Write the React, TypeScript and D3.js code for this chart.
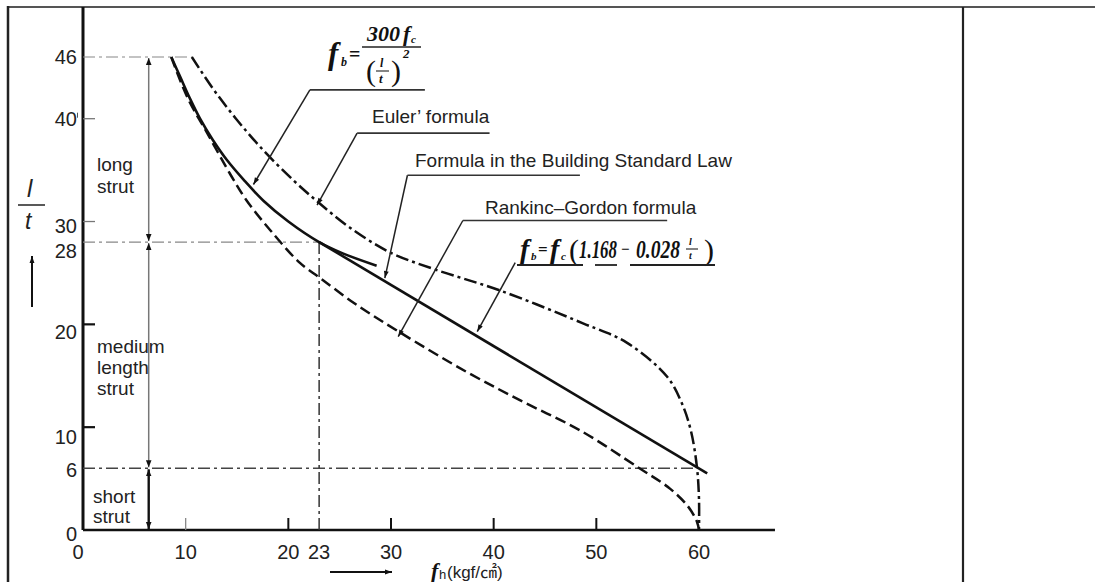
import React from 'react';
import * as d3 from 'd3';

type P = [number, number];

// x: fh (kgf/cm2), y: l/t
const xTickMarks = [10, 20, 30, 40, 50];
const xTickLabels = [0, 10, 20, 23, 30, 40, 50, 60];
const yTickMarks = [10, 20, 30, 40];
const yTickLabels = [0, 6, 10, 20, 28, 30, 40, 46];

const eulerCurve: P[] = [
  [8.6, 46], [9.5, 44], [10.4, 42], [11.4, 40], [12.6, 38], [14.0, 36], [15.7, 34],
  [17.6, 32], [20.0, 30], [23.0, 28], [25.3, 26.9], [28.6, 25.7],
];
const straightLine: P[] = [[23.0, 28], [60.8, 5.5]];
const dashedCurve: P[] = [
  [8.6, 46], [10.2, 42], [12.1, 38.6], [14.4, 34.5], [15.9, 32.1], [18.2, 29.2], [21.1, 26.0],
  [23.1, 24.5], [26.5, 22.0], [30.9, 19.2], [37.5, 15.3], [43.0, 12.4], [48.4, 9.7],
  [54.2, 6.0], [57.2, 4.0], [59.0, 2.2], [59.8, 0.8], [60.0, 0],
];
const dashDotCurve: P[] = [
  [10.6, 46], [12.6, 43], [14.9, 40], [17.5, 37], [20.5, 34], [23.0, 31.8], [26.0, 29.4],
  [29.9, 27.0], [34.1, 25.4], [40.6, 23.3], [48.7, 20.1], [53.0, 18.2], [56.9, 14.9],
  [58.3, 12.4], [59.2, 9.7], [59.8, 6.1], [60.0, 3.0], [60.0, 0],
];

// guide levels: [l/t, fh extent]
const guideLevels: P[] = [[46, 10.6], [28, 23], [6, 60]];
const guideVertical: P = [23, 28];
const dimensionX = 6.4;
const dimensionStops = [46, 28, 6, 0];

// leaders: tip, elbow, end (data units)
const leaderNames = ['fb300', 'euler', 'bsl', 'rankine', 'fb1168'];
const leaderTips: P[] = [[16.6, 33.6], [22.8, 31.6], [29.4, 24.5], [30.7, 18.8], [38.4, 19.3]];
const leaderElbows: P[] = [[22.1, 42.8], [26.7, 38.6], [31.6, 34.5], [37.0, 30.1], [42.1, 26.0]];
const leaderEnds: P[] = [[33.3, 42.8], [39.6, 38.6], [48.4, 34.5], [56.9, 30.1], [42.1, 26.0]];
const labelTexts = ['Euler’ formula', 'Formula in the Building Standard Law', 'Rankinc–Gordon formula'];

const FONT = "'Liberation Sans', Arial, sans-serif";
const MATH = "'Liberation Serif', 'DejaVu Serif', serif";

export default function App() {
  const x = d3.scaleLinear().domain([0, 60]).range([83, 699]);
  const y = d3.scaleLinear().domain([0, 46]).range([530, 57]);
  const line = d3.line<P>().x(d => x(d[0])).y(d => y(d[1])).curve(d3.curveCatmullRom.alpha(0.5));
  const straight = d3.line<P>().x(d => x(d[0])).y(d => y(d[1]));
  const labelShift: Record<number, number> = { 0: 4, 6: 2, 10: 10, 20: 8, 28: 9, 30: 4, 40: 0, 46: 0 };

  return (
    <svg width={1095} height={582} style={{ position: 'absolute', left: 0, top: 0, background: '#fff' }}>
      <defs>
        <marker id="arr" viewBox="0 0 10 10" refX="10" refY="5" markerWidth="7" markerHeight="7" orient="auto-start-reverse" markerUnits="userSpaceOnUse">
          <path d="M0,1 L10,5 L0,9 Z" fill="#111" />
        </marker>
        <marker id="arrS" viewBox="0 0 10 10" refX="10" refY="5" markerWidth="8" markerHeight="7" orient="auto-start-reverse" markerUnits="userSpaceOnUse">
          <path d="M0,1.5 L10,5 L0,8.5 Z" fill="#111" />
        </marker>
      </defs>
      <rect x={0} y={0} width={1095} height={582} fill="#fff" />
      {/* frame */}
      <line x1={7} x2={1095} y1={7} y2={7} stroke="#555" strokeWidth={2} />
      <line x1={8} x2={8} y1={6} y2={582} stroke="#222" strokeWidth={2.5} />
      <line x1={963} x2={963} y1={7} y2={582} stroke="#222" strokeWidth={2.2} />

      {/* axes */}
      <line x1={x(0)} x2={x(0)} y1={7} y2={y(0)} stroke="#111" strokeWidth={3} />
      <line x1={x(0)} x2={x(67.4)} y1={y(0)} y2={y(0)} stroke="#111" strokeWidth={2.5} />
      {yTickMarks.map(v => (
        <line key={'yt' + v} x1={x(0)} x2={x(0) + 12} y1={y(v)} y2={y(v)} stroke={v >= 30 ? '#777' : '#111'} strokeWidth={v >= 30 ? 1.3 : 2.2} />
      ))}
      <line x1={77.5} x2={77.5} y1={y(40) - 6} y2={y(40) - 1} stroke="#555" strokeWidth={1} />
      {xTickMarks.map(v => (
        <line key={'xt' + v} x1={x(v)} x2={x(v)} y1={y(0)} y2={y(0) - 12} stroke={v === 10 ? '#888' : '#111'} strokeWidth={v === 10 ? 1.3 : 2} />
      ))}
      {yTickLabels.map(v => (
        <text key={'yl' + v} x={77} y={y(v) + 7 + labelShift[v]} textAnchor="end" fontFamily={FONT} fontSize={20} fill="#222">{v}</text>
      ))}
      {xTickLabels.map(v => (
        <text key={'xl' + v} x={v === 0 ? 78 : x(v)} y={559} textAnchor="middle" fontFamily={FONT} fontSize={20} fill="#222">{v}</text>
      ))}

      {/* guides */}
      {guideLevels.map(([lt, fh]) => (
        <line key={'g' + lt} x1={x(0)} x2={x(fh)} y1={y(lt)} y2={y(lt)} stroke={lt === 6 ? '#444' : '#888'} strokeWidth={lt === 6 ? 1.4 : 1.2} strokeDasharray="12 4 3 4" />
      ))}
      <line x1={x(guideVertical[0])} x2={x(guideVertical[0])} y1={y(guideVertical[1])} y2={y(0)} stroke="#333" strokeWidth={1.5} strokeDasharray="12 4 3 4" />

      {/* dimension line */}
      {dimensionStops.slice(0, -1).map((s, i) => {
        const e = dimensionStops[i + 1];
        const last = i === dimensionStops.length - 2;
        return (
          <line key={'d' + i} x1={x(dimensionX)} x2={x(dimensionX)} y1={y(s) + 1} y2={y(e) - 1}
            stroke={last ? '#111' : '#777'} strokeWidth={last ? 2.4 : 1.5}
            markerStart="url(#arr)" markerEnd="url(#arr)" />
        );
      })}

      {/* curves */}
      <path d={line(eulerCurve) || ''} fill="none" stroke="#111" strokeWidth={2.6} />
      <path d={straight(straightLine) || ''} fill="none" stroke="#111" strokeWidth={2.6} />
      <path d={line(dashedCurve) || ''} fill="none" stroke="#111" strokeWidth={2.5} strokeDasharray="11 5" />
      <path d={line(dashDotCurve) || ''} fill="none" stroke="#111" strokeWidth={2.5} strokeDasharray="13 4 3 4" />

      {/* leaders */}
      {leaderNames.map((n, i) => (
        <g key={n}>
          <line x1={x(leaderElbows[i][0])} y1={y(leaderElbows[i][1])} x2={x(leaderTips[i][0])} y2={y(leaderTips[i][1])} stroke="#222" strokeWidth={1.5} markerEnd="url(#arrS)" />
          {n !== 'fb1168' && (
            <line x1={x(leaderElbows[i][0])} y1={y(leaderElbows[i][1])} x2={x(leaderEnds[i][0])} y2={y(leaderEnds[i][1])} stroke="#333" strokeWidth={1.6} />
          )}
        </g>
      ))}
      <text x={372} y={123} fontFamily={FONT} fontSize={19} fill="#222">{labelTexts[0]}</text>
      <text x={415} y={167} fontFamily={FONT} fontSize={19} fill="#222">{labelTexts[1]}</text>
      <text x={485} y={214} fontFamily={FONT} fontSize={19} fill="#222">{labelTexts[2]}</text>

      {/* formula fb = 300fc/(l/t)^2 */}
      <g fontFamily={MATH} fontStyle="italic" fontWeight="bold" fill="#111">
        <text x={328} y={64} fontSize={31}>f</text>
        <text x={341} y={66} fontSize={12}>b</text>
        <text x={349} y={61} fontSize={20} fontStyle="normal">=</text>
        <text x={367} y={41} fontSize={21} textLength={33} lengthAdjust="spacingAndGlyphs">300</text>
        <text x={403} y={41} fontSize={22}>f</text>
        <text x={411} y={43} fontSize={11}>c</text>
        <line x1={362} x2={421} y1={47} y2={47} stroke="#222" strokeWidth={1.6} />
        <text x={366} y={81} fontSize={30} fontStyle="normal" fontWeight="normal">(</text>
        <text x={380} y={67} fontSize={12}>l</text>
        <line x1={376} x2={389} y1={71} y2={71} stroke="#333" strokeWidth={1.2} />
        <text x={379} y={83} fontSize={13}>t</text>
        <text x={391} y={81} fontSize={30} fontStyle="normal" fontWeight="normal">)</text>
        <text x={403} y={58} fontSize={13}>2</text>
      </g>

      {/* formula fb = fc(1.168 - 0.028 l/t) */}
      <g fontFamily={MATH} fontStyle="italic" fontWeight="bold" fill="#111">
        <text x={520} y={258} fontSize={28}>f</text>
        <text x={531} y={260} fontSize={11}>b</text>
        <text x={538} y={255} fontSize={17} fontStyle="normal">=</text>
        <text x={550} y={258} fontSize={28}>f</text>
        <text x={561} y={260} fontSize={11}>c</text>
        <text x={569} y={260} fontSize={30} fontStyle="normal" fontWeight="normal">(</text>
        <text x={579} y={258} fontSize={26} textLength={38} lengthAdjust="spacingAndGlyphs">1.168</text>
        <text x={621} y={254} fontSize={15} fontStyle="normal">−</text>
        <text x={636} y={258} fontSize={26} textLength={44} lengthAdjust="spacingAndGlyphs">0.028</text>
        <text x={689} y={245} fontSize={10}>l</text>
        <line x1={686} x2={698} y1={249} y2={249} stroke="#333" strokeWidth={1.2} />
        <text x={689} y={259} fontSize={10}>t</text>
        <text x={704} y={260} fontSize={30} fontStyle="normal" fontWeight="normal">)</text>
      </g>
      <line x1={517} x2={583} y1={265} y2={265} stroke="#222" strokeWidth={1.8} />
      <line x1={595} x2={617} y1={265} y2={265} stroke="#222" strokeWidth={1.8} />
      <line x1={630} x2={715} y1={265} y2={265} stroke="#222" strokeWidth={1.8} />

      {/* left annotations */}
      <g fontFamily={FONT} fontSize={19} fill="#222">
        <text x={97} y={171}>long</text>
        <text x={97} y={193}>strut</text>
        <text x={97} y={353}>medium</text>
        <text x={97} y={374}>length</text>
        <text x={97} y={395}>strut</text>
        <text x={93} y={503}>short</text>
        <text x={93} y={523}>strut</text>
      </g>

      {/* y-axis title l/t with arrow */}
      <text x={27} y={197} fontFamily={FONT} fontStyle="italic" fontSize={24} fill="#222">l</text>
      <line x1={18} x2={45} y1={205} y2={205} stroke="#222" strokeWidth={1.5} />
      <text x={25} y={229} fontFamily={FONT} fontStyle="italic" fontSize={23} fill="#222">t</text>
      <line x1={32} x2={32} y1={307} y2={256} stroke="#111" strokeWidth={2} markerEnd="url(#arrS)" />

      {/* x-axis title */}
      <line x1={330} x2={392} y1={572} y2={572} stroke="#111" strokeWidth={2} markerEnd="url(#arrS)" />
      <text x={431} y={578} fontFamily={MATH} fontStyle="italic" fontWeight="bold" fontSize={22} fill="#111">f</text>
      <text x={439} y={579} fontFamily={FONT} fontSize={13} fill="#222">h</text>
      <text x={447} y={578} fontFamily={"'Liberation Sans', 'Noto Sans CJK KR', sans-serif"} fontSize={17} fill="#222">(kgf/㎠)</text>
    </svg>
  );
}
